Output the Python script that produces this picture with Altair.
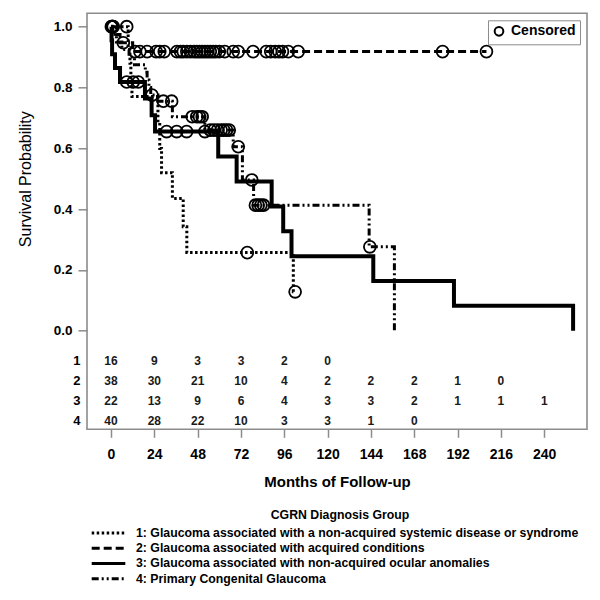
import altair as alt
import pandas as pd

FONT = "Liberation Sans"

groups = [
    "1: Glaucoma associated with a non-acquired systemic disease or syndrome",
    "2: Glaucoma associated with acquired conditions",
    "3: Glaucoma associated with non-acquired ocular anomalies",
    "4: Primary Congenital Glaucoma",
]

# Kaplan-Meier step curves (months, survival)
g1_time = [0, 9.5, 10.5, 11, 11.6, 26, 27, 28, 34, 40, 42, 101, 102]
g1_surv = [1.0, 0.93, 0.88, 0.825, 0.77, 0.684, 0.599, 0.52, 0.435, 0.342, 0.257, 0.128, 0.128]
g1_cens = [0.2, 1.2, 8.7, 75.5, 102]

g2_time = [0, 3, 5, 12, 208]
g2_surv = [1.0, 0.974, 0.947, 0.918, 0.918]
g2_cens = [1, 6.8, 13.3, 16, 20, 25, 27, 29.5, 36.5, 38.5, 40, 42, 44, 46, 47.5,
           49, 50.5, 52, 53.5, 55, 56.5, 58, 60, 63, 67.7, 70.5,
           78.7, 86, 88.5, 91, 93, 95, 98.2, 103.7, 183.7, 208]

g3_time = [0, 0.3, 0.6, 2.2, 5, 18.8, 22.5, 24.4, 59.4, 69.6, 89, 95.4, 100, 145.3, 190, 256]
g3_surv = [1.0, 0.955, 0.909, 0.864, 0.818, 0.764, 0.709, 0.655, 0.573, 0.491, 0.409,
           0.327, 0.245, 0.164, 0.082, 0.0]
g3_cens = [8.7, 12.3, 15.1, 30.8, 36.4, 41.9, 52]

g4_time = [0, 1, 3, 6, 10, 13, 19, 20, 21, 22, 26, 34, 52, 67.7, 72.8, 79, 143, 157]
g4_surv = [1.0, 0.975, 0.95, 0.925, 0.9, 0.875, 0.85, 0.825, 0.80, 0.775, 0.755, 0.704,
           0.66, 0.605, 0.496, 0.413, 0.276, 0.0]
g4_cens = [0.5, 0.8, 22.7, 29, 33.6, 45, 47.5, 49, 50.5, 55, 57, 59, 61, 62.5, 64, 65.5,
           70.5, 78, 80, 81.5, 83, 84.5, 143.4]

# Number at risk table
risk_times = [0, 24, 48, 72, 96, 120, 144, 168, 192, 216, 240]
risk_rows = ["1", "2", "3", "4"]
risk_g1 = [16, 9, 3, 3, 2, 0, None, None, None, None, None]
risk_g2 = [38, 30, 21, 10, 4, 2, 2, 2, 1, 0, None]
risk_g3 = [22, 13, 9, 6, 4, 3, 3, 2, 1, 1, 1]
risk_g4 = [40, 28, 22, 10, 3, 3, 1, 0, None, None, None]

y_ticks = [0.0, 0.2, 0.4, 0.6, 0.8, 1.0]

curves = [(g1_time, g1_surv, g1_cens), (g2_time, g2_surv, g2_cens),
          (g3_time, g3_surv, g3_cens), (g4_time, g4_surv, g4_cens)]


def step_value(times, survs, t):
    v = survs[0]
    for ti, si in zip(times, survs):
        if ti <= t:
            v = si
    return v


line_rows, cens_rows = [], []
for name, (tt, ss, cc) in zip(groups, curves):
    for i, (t, s) in enumerate(zip(tt, ss)):
        line_rows.append({"grp": name, "t": t, "s": s, "idx": i})
    for t in cc:
        cens_rows.append({"grp": name, "t": t, "s": step_value(tt, ss, t), "lab": "Censored"})
lines_df = pd.DataFrame(line_rows)
cens_df = pd.DataFrame(cens_rows)

risk_list = []
for r, vals in zip(risk_rows, [risk_g1, risk_g2, risk_g3, risk_g4]):
    for t, n in zip(risk_times, vals):
        if n is not None:
            risk_list.append({"row": r, "t": t, "n": str(n)})
risk_df = pd.DataFrame(risk_list)

x_scale = alt.Scale(domain=[-13.3, 263.7], nice=False, zero=False)
y_scale = alt.Scale(domain=[-0.324, 1.044], nice=False, zero=False)

x_axis = alt.Axis(values=risk_times, title="Months of Follow-up", grid=False, domain=False,
                  labelFont=FONT, labelFontSize=14, labelFontWeight="bold", labelColor="black",
                  tickSize=8, tickColor="#8c8c8c", tickWidth=1.5, labelPadding=10.5,
                  labelFlush=False, labelOverlap=False,
                  titleFont=FONT, titleFontSize=15, titleFontWeight="bold", titleColor="black",
                  titleY=57.4, titleBaseline="alphabetic")
y_axis = alt.Axis(values=y_ticks, format=".1f", title="Survival Probability", grid=False,
                  domain=False, labelFont=FONT, labelFontSize=13.5, labelFontWeight="bold",
                  labelColor="black", tickSize=9, tickColor="#8c8c8c", tickWidth=1.5,
                  labelPadding=6, titleFont=FONT, titleFontSize=16, titleFontWeight="normal",
                  titleColor="black", titleX=-57, titleY=165.4, titleAngle=270,
                  titleAlign="center", titleBaseline="alphabetic")

lines = alt.Chart(lines_df).mark_line(interpolate="step-after", color="black",
                                      strokeCap="butt").encode(
    x=alt.X("t:Q", scale=x_scale, axis=x_axis),
    y=alt.Y("s:Q", scale=y_scale, axis=y_axis),
    strokeDash=alt.StrokeDash(
        "grp:N",
        scale=alt.Scale(domain=groups, range=[[2.5, 2.5], [8, 4], [1, 0], [7, 3, 2, 3, 2, 3]]),
        legend=alt.Legend(title="CGRN Diagnosis Group", orient="none", legendX=14, legendY=496,
                          direction="vertical", symbolType="M-2.8,0H2.8", symbolSize=144,
                          symbolStrokeWidth=3, symbolStrokeColor="black",
                          labelFont=FONT, labelFontSize=12.3, labelFontWeight="bold",
                          labelColor="black", labelLimit=700, labelOffset=20,
                          titleFont=FONT, titleFontSize=12.3, titleFontWeight="bold",
                          titleColor="black", titleAnchor="middle", titlePadding=4,
                          rowPadding=1.2, padding=0),
    ),
    strokeWidth=alt.condition("indexof(datum.grp, '3:') == 0", alt.value(4), alt.value(3)),
    order=alt.Order("idx:Q"),
)

cens = alt.Chart(cens_df).mark_point(filled=False, color="black", size=140, strokeWidth=1.8,
                                     opacity=1).encode(
    x=alt.X("t:Q", scale=x_scale),
    y=alt.Y("s:Q", scale=y_scale),
    shape=alt.Shape("lab:N", scale=alt.Scale(range=["circle"]),
                    legend=alt.Legend(title=None, orient="top-right", offset=7, padding=4,
                                      strokeColor="#8c8c8c", fillColor="white",
                                      symbolSize=75, symbolStrokeWidth=2,
                                      symbolStrokeColor="black", symbolFillColor="white",
                                      labelFont=FONT, labelFontSize=14, labelFontWeight="bold",
                                      labelColor="black", labelOffset=5)),
)

risk = alt.Chart(risk_df).mark_text(font=FONT, fontSize=12, fontWeight="bold",
                                    color="#1a1a1a").encode(
    x=alt.X("t:Q", scale=x_scale),
    y=alt.Y("row:O", scale=alt.Scale(domain=risk_rows, range=[347.4, 407.4], padding=0),
            axis=alt.Axis(orient="left", title=None, domain=False, ticks=False, grid=False,
                          labelPadding=7, labelFont=FONT, labelFontSize=13,
                          labelFontWeight="bold", labelColor="black")),
    text="n:N",
)

chart = alt.layer(alt.layer(lines, cens), risk).resolve_scale(y="independent").properties(
    width=500, height=416,
    autosize=alt.AutoSizeParams(type="none"),
    padding={"left": 79, "top": 5.3, "right": 5, "bottom": 170},
).configure(font=FONT).configure_view(stroke="#8c8c8c", strokeWidth=1.6)

chart.save("out.html", embed_options={"renderer": "svg", "actions": False})
